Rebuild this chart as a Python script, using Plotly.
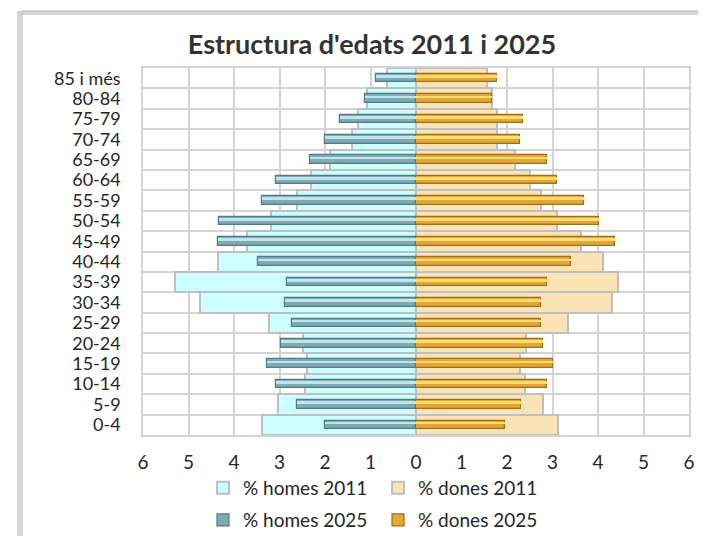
import plotly.graph_objects as go

# age groups, bottom to top
AGES = ["0-4", "5-9", "10-14", "15-19", "20-24", "25-29", "30-34", "35-39",
        "40-44", "45-49", "50-54", "55-59", "60-64", "65-69", "70-74",
        "75-79", "80-84", "85 i més"]

HOMES_2011 = [3.38, 3.03, 2.44, 2.39, 2.48, 3.24, 4.74, 5.29, 4.36, 3.71,
              3.18, 2.61, 2.30, 1.89, 1.40, 1.27, 1.07, 0.64]
DONES_2011 = [3.13, 2.80, 2.40, 2.29, 2.42, 3.34, 4.31, 4.44, 4.11, 3.63,
              3.10, 2.75, 2.51, 2.18, 1.79, 1.79, 1.68, 1.55]
HOMES_2025 = [2.00, 2.61, 3.07, 3.27, 2.96, 2.72, 2.87, 2.83, 3.47, 4.36,
              4.32, 3.38, 3.07, 2.32, 1.99, 1.66, 1.12, 0.88]
DONES_2025 = [1.96, 2.31, 2.88, 3.02, 2.80, 2.75, 2.75, 2.88, 3.41, 4.38,
              4.02, 3.70, 3.10, 2.88, 2.29, 2.36, 1.66, 1.79]

X_TICKS = [-6, -5, -4, -3, -2, -1, 0, 1, 2, 3, 4, 5, 6]

FONT = "Lato, 'Open Sans', sans-serif"
TEXT = "#262626"
GRID = "#D4D4D4"

# page body adds an 8px margin, so the figure is shrunk and shifted by it
OFF = 8
W, H = 706 - OFF, 536 - OFF
L, R, T, B = 143 - OFF, 17, 68 - OFF, 101
PW, PH = W - L - R, H - T - B


def px_x(p):
    return (p - OFF - L) / PW


def px_y(p):
    return (H - B - (p - OFF)) / PH


neg = lambda vals: [-v for v in vals]

fig = go.Figure()

# 2011: wide pale bars
fig.add_trace(go.Bar(
    y=AGES, x=neg(HOMES_2011), orientation="h", width=1.0, name="% homes 2011",
    marker=dict(color="#CCFFFF", line=dict(color="#BFBFBF", width=2)),
    legend="legend",
))
fig.add_trace(go.Bar(
    y=AGES, x=DONES_2011, orientation="h", width=1.0, name="% dones 2011",
    marker=dict(color="#FAE4B6", line=dict(color="#BFBFBF", width=2)),
    legend="legend",
))

# 2025: narrow bevelled bars
fig.add_trace(go.Bar(
    y=AGES, x=neg(HOMES_2025), orientation="h", width=0.42, name="% homes 2025",
    marker=dict(color="#7FA9B3", line=dict(color="#4E7C87", width=1.2)),
    legend="legend2",
))
fig.add_trace(go.Bar(
    y=AGES, x=DONES_2025, orientation="h", width=0.42, name="% dones 2025",
    marker=dict(color="#E4A735", line=dict(color="#A06E1C", width=1.2)),
    legend="legend2",
))
# highlight strip for the bevel look
fig.add_trace(go.Bar(
    y=AGES, x=neg(HOMES_2025), orientation="h", width=0.13, offset=0.02,
    marker=dict(color="#C2E4EB", line=dict(width=0)), showlegend=False, hoverinfo="skip",
))
fig.add_trace(go.Bar(
    y=AGES, x=DONES_2025, orientation="h", width=0.13, offset=0.02,
    marker=dict(color="#FFDD6E", line=dict(width=0)), showlegend=False, hoverinfo="skip",
))

legend_common = dict(
    orientation="h", xanchor="left", yanchor="middle", x=px_x(203),
    font=dict(family=FONT, size=19, color=TEXT), entrywidth=130,
    bgcolor="rgba(0,0,0,0)", itemwidth=30, tracegroupgap=0,
)

fig.update_layout(
    width=W, height=H,
    margin=dict(l=L, r=R, t=T, b=B, autoexpand=False),
    paper_bgcolor="white", plot_bgcolor="white",
    barmode="overlay", bargap=0,
    font=dict(family=FONT, color=TEXT),
    title=dict(text="<b>Estructura d'edats 2011 i 2025</b>", x=(372 - OFF) / W, xref="container",
               y=1 - (45 - OFF) / H, yanchor="middle", xanchor="center",
               font=dict(family=FONT, size=27, color="#333333")),
    xaxis=dict(range=[-6, 6], tickvals=X_TICKS, ticktext=[str(abs(v)) for v in X_TICKS],
               showgrid=True, gridcolor=GRID, gridwidth=1.5, zeroline=False,
               showline=True, linecolor=GRID, linewidth=1.5, mirror=True,
               ticks="outside", ticklen=9, tickcolor="rgba(0,0,0,0)", automargin=False,
               tickfont=dict(family=FONT, size=19, color=TEXT)),
    yaxis=dict(categoryorder="array", categoryarray=AGES, range=[-0.5, 17.5],
               tickmode="array", tickvals=AGES, automargin=False,
               tickson="boundaries", showgrid=True, gridcolor=GRID, gridwidth=1.5,
               showline=True, linecolor=GRID, linewidth=1.5, mirror=True,
               ticks="", ticklabelstandoff=17,
               tickfont=dict(family=FONT, size=18, color=TEXT)),
    legend=dict(y=px_y(488), **legend_common),
    legend2=dict(y=px_y(520), **legend_common),
    showlegend=True,
)

# outer chart frame with a soft shadow
fig.add_shape(type="rect", xref="paper", yref="paper",
              x0=px_x(19), x1=px_x(720), y0=px_y(550), y1=px_y(13),
              line=dict(color="#D6D6D6", width=4), layer="below")
fig.add_shape(type="rect", xref="paper", yref="paper",
              x0=px_x(22), x1=px_x(720), y0=px_y(550), y1=px_y(11),
              line=dict(color="#C8C8C8", width=1.5), layer="below")

fig.write_html("out.html")
